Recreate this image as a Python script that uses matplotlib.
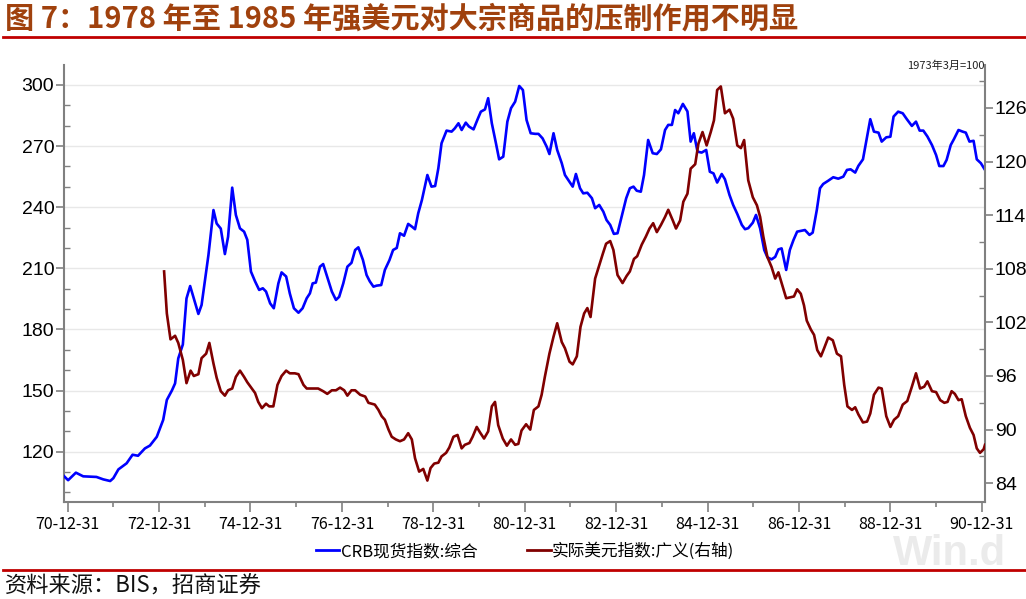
import matplotlib
matplotlib.use("Agg")
import matplotlib.pyplot as plt
from matplotlib.ticker import MultipleLocator, FixedLocator
from matplotlib.lines import Line2D

plt.rcParams['font.family'] = ['Noto Sans CJK SC', 'DejaVu Sans']
plt.rcParams['axes.unicode_minus'] = False

# CRB spot index (left axis), decimal year
crb_t = [1970.92, 1971.01, 1971.18, 1971.34, 1971.63, 1971.78, 1971.93, 1972.00, 1972.11, 1972.29,
         1972.42, 1972.54, 1972.69, 1972.80, 1972.95, 1973.09, 1973.17, 1973.28, 1973.35, 1973.42,
         1973.52, 1973.60, 1973.68, 1973.86, 1973.93, 1974.08, 1974.19, 1974.26, 1974.35, 1974.44,
         1974.51, 1974.60, 1974.68, 1974.77, 1974.86, 1974.93, 1975.01, 1975.10, 1975.19, 1975.27,
         1975.34, 1975.43, 1975.51, 1975.61, 1975.68, 1975.78, 1975.86, 1975.95, 1976.05, 1976.14,
         1976.23, 1976.30, 1976.36, 1976.43, 1976.52, 1976.59, 1976.70, 1976.78, 1976.87, 1976.94,
         1977.03, 1977.12, 1977.21, 1977.29, 1977.36, 1977.46, 1977.54, 1977.61, 1977.69, 1977.76,
         1977.86, 1977.94, 1978.04, 1978.12, 1978.20, 1978.27, 1978.36, 1978.45, 1978.53, 1978.60,
         1978.67, 1978.75, 1978.87, 1978.96, 1979.04, 1979.11, 1979.18, 1979.29, 1979.40, 1979.47,
         1979.55, 1979.62, 1979.71, 1979.78, 1979.88, 1979.97, 1980.04, 1980.13, 1980.20, 1980.28,
         1980.37, 1980.44, 1980.53, 1980.62, 1980.70, 1980.79, 1980.88, 1980.96, 1981.04, 1981.13,
         1981.23, 1981.30, 1981.39, 1981.48, 1981.54, 1981.63, 1981.71, 1981.81, 1981.88, 1981.98,
         1982.05, 1982.12, 1982.21, 1982.28, 1982.37, 1982.47, 1982.54, 1982.63, 1982.72, 1982.79,
         1982.87, 1982.95, 1983.03, 1983.12, 1983.22, 1983.30, 1983.38, 1983.45, 1983.54, 1983.61,
         1983.70, 1983.80, 1983.89, 1983.98, 1984.07, 1984.14, 1984.22, 1984.29, 1984.36, 1984.46,
         1984.56, 1984.63, 1984.70, 1984.78, 1984.87, 1984.97, 1985.05, 1985.13, 1985.21, 1985.31,
         1985.38, 1985.48, 1985.56, 1985.65, 1985.75, 1985.82, 1985.89, 1985.99, 1986.06, 1986.15,
         1986.24, 1986.31, 1986.40, 1986.48, 1986.55, 1986.62, 1986.72, 1986.80, 1986.88, 1986.96,
         1987.06, 1987.13, 1987.23, 1987.30, 1987.39, 1987.46, 1987.53, 1987.64, 1987.75, 1987.86,
         1987.97, 1988.05, 1988.13, 1988.23, 1988.30, 1988.40, 1988.47, 1988.56, 1988.64, 1988.74,
         1988.81, 1988.91, 1989.00, 1989.07, 1989.17, 1989.27, 1989.36, 1989.47, 1989.56, 1989.64,
         1989.72, 1989.81, 1989.91, 1990.00, 1990.07, 1990.16, 1990.23, 1990.32, 1990.39, 1990.49,
         1990.58, 1990.65, 1990.73, 1990.82, 1990.89, 1990.98, 1991.07]
crb_v = [108.0, 106.0, 109.7, 107.9, 107.6, 106.4, 105.6, 107.0, 111.3, 114.3,
         118.5, 118.0, 121.6, 123.0, 127.3, 135.6, 145.4, 150.0, 153.5, 165.8,
         172.6, 195.2, 201.3, 187.6, 192.0, 216.5, 238.6, 232.0, 229.5, 217.0,
         225.5, 249.6, 236.2, 229.6, 228.0, 224.0, 208.4, 203.6, 199.4, 200.2,
         198.6, 192.8, 190.4, 202.6, 208.0, 206.0, 197.7, 190.4, 188.2, 190.4,
         195.3, 197.7, 202.6, 203.0, 210.8, 212.1, 204.3, 198.6, 194.5, 196.0,
         202.6, 210.8, 212.7, 219.0, 220.3, 214.1, 206.7, 203.6, 201.0, 201.5,
         201.8, 209.2, 214.0, 219.0, 220.0, 227.2, 226.0, 231.8, 230.5, 229.2,
         237.0, 243.5, 255.8, 250.1, 250.4, 259.1, 271.4, 277.6, 277.1, 278.7,
         281.2, 277.9, 281.5, 279.6, 278.2, 283.2, 286.9, 288.0, 293.5, 281.2,
         271.4, 263.5, 264.8, 282.0, 288.6, 291.8, 299.5, 297.5, 282.8, 276.3,
         276.0, 276.0, 273.8, 269.7, 266.1, 276.3, 268.1, 261.6, 255.8, 252.5,
         250.1, 256.3, 249.3, 246.8, 247.1, 244.4, 239.5, 241.1, 237.8, 233.7,
         231.3, 226.9, 227.2, 235.3, 244.4, 249.3, 250.1, 248.1, 247.6, 255.8,
         273.0, 266.5, 266.1, 268.4, 277.9, 280.4, 280.4, 287.7, 286.1, 290.7,
         287.0, 272.2, 276.3, 267.3, 266.8, 268.1, 257.4, 256.6, 252.1, 256.3,
         253.7, 246.0, 241.1, 236.7, 231.3, 229.2, 229.7, 232.4, 236.2, 229.6,
         219.0, 215.4, 214.4, 215.6, 219.3, 219.8, 209.2, 219.0, 223.9, 228.0,
         228.5, 228.8, 226.4, 227.5, 238.6, 249.3, 251.4, 253.0, 254.7, 254.0,
         255.0, 258.3, 258.6, 257.0, 260.3, 263.5, 272.2, 283.2, 277.1, 276.6,
         272.2, 274.3, 274.6, 284.5, 286.9, 286.1, 283.2, 279.9, 282.0, 277.6,
         277.6, 274.7, 270.5, 265.6, 260.2, 260.2, 263.2, 270.5, 273.4, 277.9,
         277.1, 276.6, 272.2, 272.6, 263.5, 261.6, 258.3]

# real broad dollar index (right axis)
usd_t = [1973.11, 1973.17, 1973.25, 1973.35, 1973.42, 1973.52, 1973.60, 1973.69, 1973.76, 1973.86,
         1973.93, 1974.03, 1974.10, 1974.19, 1974.26, 1974.35, 1974.44, 1974.51, 1974.60, 1974.68,
         1974.77, 1974.86, 1974.93, 1975.03, 1975.10, 1975.17, 1975.25, 1975.34, 1975.41, 1975.50,
         1975.59, 1975.68, 1975.78, 1975.86, 1975.97, 1976.05, 1976.16, 1976.23, 1976.37, 1976.48,
         1976.59, 1976.68, 1976.78, 1976.87, 1976.96, 1977.05, 1977.12, 1977.21, 1977.29, 1977.40,
         1977.51, 1977.58, 1977.65, 1977.72, 1977.80, 1977.87, 1977.94, 1978.02, 1978.09, 1978.18,
         1978.27, 1978.36, 1978.45, 1978.53, 1978.60, 1978.69, 1978.78, 1978.87, 1978.94, 1979.02,
         1979.11, 1979.18, 1979.28, 1979.35, 1979.44, 1979.53, 1979.62, 1979.69, 1979.79, 1979.86,
         1979.95, 1980.02, 1980.11, 1980.20, 1980.28, 1980.35, 1980.42, 1980.52, 1980.61, 1980.70,
         1980.79, 1980.86, 1980.93, 1981.03, 1981.12, 1981.20, 1981.30, 1981.37, 1981.44, 1981.54,
         1981.63, 1981.71, 1981.81, 1981.88, 1981.98, 1982.05, 1982.14, 1982.22, 1982.30, 1982.37,
         1982.44, 1982.54, 1982.63, 1982.71, 1982.78, 1982.87, 1982.94, 1983.03, 1983.14, 1983.23,
         1983.30, 1983.39, 1983.46, 1983.56, 1983.65, 1983.73, 1983.81, 1983.89, 1983.98, 1984.07,
         1984.14, 1984.24, 1984.31, 1984.40, 1984.47, 1984.56, 1984.63, 1984.73, 1984.80, 1984.89,
         1984.98, 1985.07, 1985.14, 1985.21, 1985.29, 1985.38, 1985.48, 1985.56, 1985.65, 1985.73,
         1985.80, 1985.89, 1985.99, 1986.08, 1986.15, 1986.22, 1986.31, 1986.40, 1986.48, 1986.55,
         1986.62, 1986.72, 1986.80, 1986.89, 1986.96, 1987.04, 1987.11, 1987.17, 1987.26, 1987.33,
         1987.40, 1987.48, 1987.55, 1987.64, 1987.74, 1987.83, 1987.92, 1987.99, 1988.06, 1988.16,
         1988.23, 1988.30, 1988.40, 1988.49, 1988.56, 1988.64, 1988.74, 1988.81, 1988.91, 1989.00,
         1989.08, 1989.17, 1989.27, 1989.37, 1989.47, 1989.56, 1989.65, 1989.74, 1989.81, 1989.91,
         1990.00, 1990.09, 1990.18, 1990.25, 1990.34, 1990.41, 1990.49, 1990.56, 1990.65, 1990.74,
         1990.82, 1990.89, 1990.96, 1991.04, 1991.07]
usd_v = [107.7, 103.0, 100.1, 100.5, 99.7, 97.8, 95.2, 96.6, 96.0, 96.2,
         98.0, 98.5, 99.7, 97.4, 95.8, 94.3, 93.8, 94.4, 94.6, 95.9,
         96.6, 95.9, 95.3, 94.6, 94.1, 93.1, 92.4, 92.9, 92.6, 92.6,
         95.0, 96.0, 96.6, 96.3, 96.3, 96.2, 95.0, 94.6, 94.6, 94.6,
         94.3, 94.0, 94.4, 94.4, 94.7, 94.4, 93.8, 94.4, 94.4, 93.9,
         93.7, 93.0, 92.9, 92.8, 92.2, 91.5, 91.1, 90.0, 89.2, 88.9,
         88.7, 88.9, 89.6, 88.9, 86.8, 85.3, 85.6, 84.3, 85.7, 86.2,
         86.3, 87.0, 87.4, 88.0, 89.2, 89.4, 87.9, 88.3, 88.5, 89.2,
         90.3, 89.7, 89.0, 89.8, 92.6, 93.1, 90.5, 89.0, 88.2, 88.9,
         88.3, 88.4, 89.9, 90.6, 90.0, 92.2, 92.6, 93.9, 95.9, 98.5,
         100.4, 101.9, 99.8, 99.1, 97.6, 97.3, 98.2, 101.5, 103.0, 103.6,
         102.6, 106.9, 108.4, 109.7, 110.8, 111.1, 110.1, 107.3, 106.4, 107.2,
         107.7, 109.1, 109.4, 110.7, 111.6, 112.5, 113.1, 112.1, 112.9, 113.8,
         114.6, 113.4, 112.5, 113.4, 115.5, 116.4, 119.2, 119.7, 122.0, 123.3,
         121.8, 123.3, 124.6, 128.0, 128.4, 125.4, 125.8, 124.8, 121.8, 121.5,
         122.4, 117.9, 116.0, 115.1, 113.8, 111.6, 109.3, 108.2, 106.9, 107.6,
         106.4, 104.7, 104.8, 104.9, 105.7, 105.2, 103.9, 102.2, 101.2, 100.6,
         98.9, 98.2, 99.1, 100.3, 100.0, 98.5, 98.2, 95.0, 92.6, 92.2,
         92.5, 91.7, 90.8, 90.9, 91.8, 93.9, 94.7, 94.6, 91.5, 90.3,
         91.1, 91.5, 92.8, 93.2, 94.8, 96.3, 94.6, 94.8, 95.4, 94.3,
         94.2, 93.3, 93.0, 93.1, 94.3, 94.0, 93.3, 93.4, 91.5, 90.2,
         89.4, 87.9, 87.4, 87.8, 88.3]

xtick_pos = [1971, 1973, 1975, 1977, 1979, 1981, 1983, 1985, 1987, 1989, 1991]
xtick_lab = ['70-12-31', '72-12-31', '74-12-31', '76-12-31', '78-12-31', '80-12-31',
             '82-12-31', '84-12-31', '86-12-31', '88-12-31', '90-12-31']
left_ticks = [120, 150, 180, 210, 240, 270, 300]
right_ticks = [84, 90, 96, 102, 108, 114, 120, 126]

title = '图 7：1978 年至 1985 年强美元对大宗商品的压制作用不明显'
source = '资料来源：BIS，招商证券'
name_crb = 'CRB现货指数:综合'
name_usd = '实际美元指数:广义(右轴)'

narrow = ['Liberation Sans Narrow', 'Liberation Sans', 'DejaVu Sans']
spine_c = '#808080'

fig = plt.figure(figsize=(10.26, 5.99), dpi=100)
ax = fig.add_axes([64 / 1026, 1 - 502 / 599, 921 / 1026, 437 / 599])
ax2 = ax.twinx()

ax.set_xlim(1970.92, 1991.07)
ax.set_ylim(95.3, 309.8)
ax2.set_ylim(81.9, 130.8)

for t in left_ticks:
    ax.axhline(t, color='#E8E8E8', lw=1.0, zorder=0)

ax.plot(crb_t, crb_v, color='#0000FF', lw=1.9, zorder=3)
ax2.plot(usd_t, usd_v, color='#800000', lw=1.9, zorder=3)

# spines
for a in (ax, ax2):
    for s in a.spines.values():
        s.set_visible(False)
ax.spines['left'].set_visible(True)
ax.spines['bottom'].set_visible(True)
ax2.spines['right'].set_visible(True)
for s in (ax.spines['left'], ax.spines['bottom'], ax2.spines['right']):
    s.set_color(spine_c)
    s.set_linewidth(1.5)

ax.set_xticks(xtick_pos)
ax.set_xticklabels(xtick_lab)
ax.xaxis.set_minor_locator(FixedLocator([1972, 1974, 1976, 1978, 1980, 1982, 1984, 1986, 1988, 1990]))
ax.tick_params(axis='x', which='major', direction='out', length=7, width=1.2, color=spine_c,
               labelsize=11.5, pad=3)
ax.tick_params(axis='x', which='minor', direction='out', length=3.5, width=1.2, color=spine_c)

ax.set_yticks(left_ticks)
ax.yaxis.set_minor_locator(MultipleLocator(10))
ax.tick_params(axis='y', which='major', direction='out', length=6, width=1.2, color=spine_c,
               labelsize=14, pad=1)
ax.tick_params(axis='y', which='minor', direction='in', length=4, width=1.0, color=spine_c)
for lab in ax.get_yticklabels():
    lab.set_family(narrow)

ax2.set_yticks(right_ticks)
ax2.yaxis.set_minor_locator(MultipleLocator(3))
ax2.tick_params(axis='y', which='major', direction='out', length=6, width=1.2, color=spine_c,
                labelsize=14, pad=1)
ax2.tick_params(axis='y', which='minor', direction='in', length=4, width=1.0, color=spine_c)
for lab in ax2.get_yticklabels():
    lab.set_family(narrow)

# unit note
fig.text(985 / 1026, 1 - 66 / 599, '1973年3月=100', ha='right', va='center', fontsize=8,
         color='#222222')

# legend
handles = [Line2D([], [], color='#0000FF', lw=2), Line2D([], [], color='#800000', lw=2)]
fig.legend(handles, [name_crb, name_usd], loc='center', bbox_to_anchor=(525 / 1026, 1 - 551 / 599),
           ncol=2, frameon=False, fontsize=12, handlelength=1.4, handletextpad=0.1,
           columnspacing=3.0)

# watermark
fig.text(950 / 1026, 1 - 534 / 599, 'Win.d', ha='center', va='top', fontsize=30,
         fontweight='bold', color='#EBEBEB', family=['Liberation Sans', 'DejaVu Sans'], zorder=0)

# title and source
fig.text(5 / 1026, 1 - 18 / 599, title, ha='left', va='center', fontsize=21, fontweight='bold',
         color='#A0410D')
fig.add_artist(Line2D([3 / 1026, 1.0], [1 - 37 / 599, 1 - 37 / 599], color='#C00000', lw=2))
fig.add_artist(Line2D([3 / 1026, 1.0], [1 - 570 / 599, 1 - 570 / 599], color='#C00000', lw=2))
fig.text(5 / 1026, 1 - 586 / 599, source, ha='left', va='center', fontsize=16, color='#111111')

fig.savefig('out.png', dpi=100)
